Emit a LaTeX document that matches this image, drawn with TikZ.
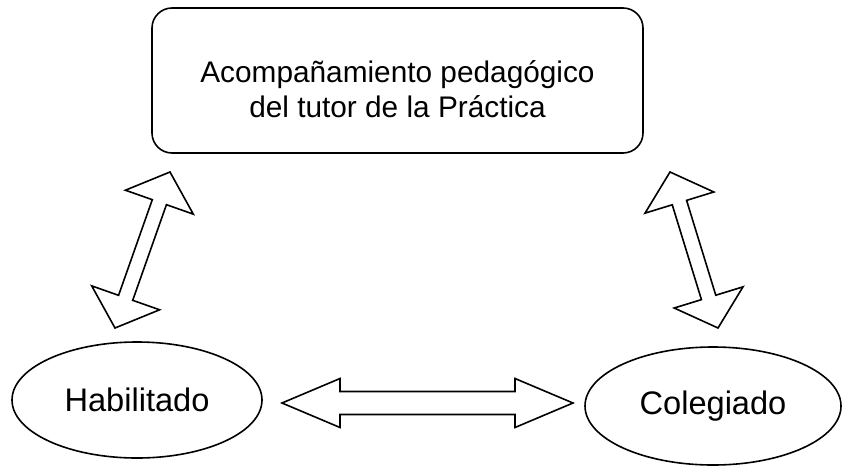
\documentclass[tikz,border=0pt]{standalone}
\usepackage{fontspec}
\setmainfont{Liberation Sans}
\usetikzlibrary{positioning,calc,shapes.geometric}
\tikzset{%
    tutor box/.style={
      rectangle,
      draw,
      rounded corners=20pt,
      minimum width=491pt,
      minimum height=145pt
    },
    tutor text/.style={
      align=center,
      inner sep=0pt,
      font=\fontsize{29.8}{35}\selectfont
    },
    actor/.style={
      ellipse,
      draw,
      inner sep=0pt,
      font=\fontsize{32.6}{37}\selectfont
    },
    block arrow/.style={
      draw,
      fill=white,
      line join=miter
    }
  }

% hollow double arrow: #1,#2 tips, #3 half shaft, #4 half head, #5 head length
\newcommand{\blockarrow}[5]{%
  \coordinate (#1-h) at ($(#1)!#5!(#2)$);
  \coordinate (#2-h) at ($(#2)!#5!(#1)$);
  \draw [block arrow] (#1)
    -- ($(#1-h)!#4!90:(#2)$) -- ($(#1-h)!#3!90:(#2)$)
    -- ($(#2-h)!#3!-90:(#1)$) -- ($(#2-h)!#4!-90:(#1)$)
    -- (#2)
    -- ($(#2-h)!#4!90:(#1)$) -- ($(#2-h)!#3!90:(#1)$)
    -- ($(#1-h)!#3!-90:(#2)$) -- ($(#1-h)!#4!-90:(#2)$)
    -- cycle;
}

\begin{document}
\begin{tikzpicture}[x=1pt, y=-1pt, line width=1.6pt]
      \useasboundingbox (0,0) rectangle (842,466);

      \node [tutor box] (tutor) at (397.5,80.5) {};
      \node [tutor text] (tutortext) at ($(tutor.center)+(0,9)$)
        {Acompañamiento pedagógico\\del tutor de la Práctica};

      \node [actor, minimum width=250pt, minimum height=116pt] (hab) at (137,400) {Habilitado};
      \node [actor, minimum width=256pt, minimum height=118pt] (col) at (713,406) {Colegiado};

      \coordinate (tut-hab) at (170,172);
      \coordinate (hab-tut) at (115,328);
      \coordinate (tut-col) at (670,172);
      \coordinate (col-tut) at (718,328);
      \coordinate (hab-col) at (282,403);
      \coordinate (col-hab) at (573,403);

      \blockarrow{tut-hab}{hab-tut}{7.5pt}{36pt}{32pt}
      \blockarrow{tut-col}{col-tut}{7.5pt}{36pt}{32pt}
      \blockarrow{hab-col}{col-hab}{11.5pt}{24.5pt}{58pt}
    \end{tikzpicture}
\end{document}
